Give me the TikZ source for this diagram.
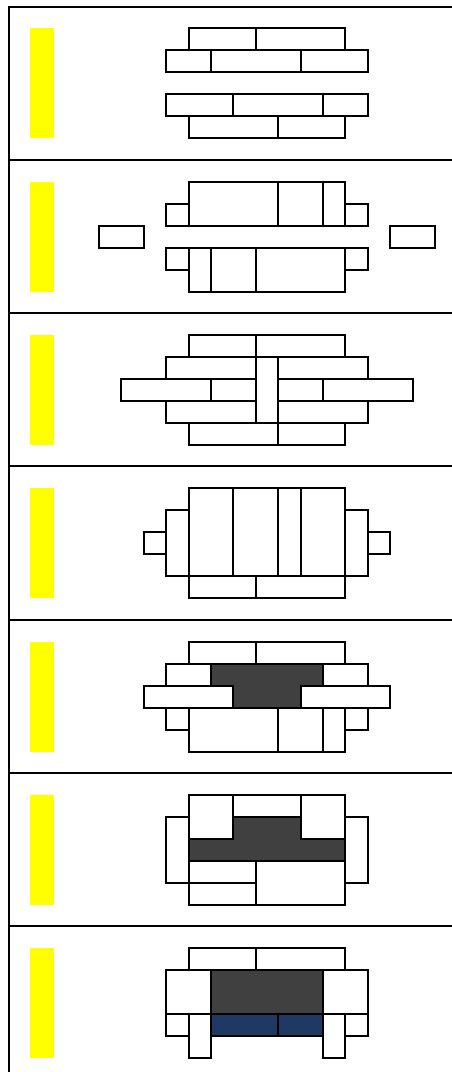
\documentclass[tikz,border=0pt]{standalone}
\usepackage{xcolor}
\definecolor{barfill}{HTML}{FFFF00}
\definecolor{corefill}{HTML}{404040}
\definecolor{basefill}{HTML}{203864}

\begin{document}
\begin{tikzpicture}[
      brick/.style={draw=black, line width=2pt, fill=white},
      core/.style={brick, fill=corefill},
      base/.style={brick, fill=basefill},
      marker/.style={fill=barfill},
      rule/.style={line width=2pt},
      grid/.style={x=22.4pt, y=-22pt}]
    \useasboundingbox (0,0) rectangle (451pt,-1072pt);
    % panel rules and yellow markers
    \foreach \p in {0,...,6} {
      \draw[rule] (8.3pt,{-6.5pt-153.3pt*\p}) -- (460pt,{-6.5pt-153.3pt*\p});
      \fill[marker] (30pt,{-28.3pt-153.3pt*\p}) rectangle (54pt,{-138.3pt-153.3pt*\p});
    }
    \draw[rule] (9.3pt,-5.5pt) -- (9.3pt,-1080pt);
    % panel 1
    \begin{scope}[grid, shift={(99pt,-28.3pt)}]
      \foreach \a/\b/\c/\d in {4/0/7/1, 7/0/11/1, 3/1/5/2, 5/1/9/2, 9/1/12/2,
          3/3/6/4, 6/3/10/4, 10/3/12/4, 4/4/8/5, 8/4/11/5}
        \draw[brick] (\a,\b) rectangle (\c,\d);
    \end{scope}
    % panel 2
    \begin{scope}[grid, shift={(99pt,-181.6pt)}]
      \foreach \a/\b/\c/\d in {4/0/8/2, 8/0/10/2, 10/0/11/2, 3/1/4/2, 11/1/12/2,
          0/2/2/3, 13/2/15/3, 3/3/4/4, 11/3/12/4, 4/3/5/5, 5/3/7/5, 7/3/11/5}
        \draw[brick] (\a,\b) rectangle (\c,\d);
    \end{scope}
    % panel 3
    \begin{scope}[grid, shift={(99pt,-334.9pt)}]
      \foreach \a/\b/\c/\d in {4/0/7/1, 7/0/11/1, 3/1/7/2, 8/1/12/2, 1/2/5/3,
          5/2/7/3, 8/2/10/3, 10/2/14/3, 3/3/7/4, 8/3/12/4, 4/4/8/5, 8/4/11/5, 7/1/8/4}
        \draw[brick] (\a,\b) rectangle (\c,\d);
    \end{scope}
    % panel 4
    \begin{scope}[grid, shift={(99pt,-488.2pt)}]
      \foreach \a/\b/\c/\d in {4/0/6/4, 6/0/8/4, 8/0/9/4, 9/0/11/4, 3/1/4/4,
          11/1/12/4, 2/2/3/3, 12/2/13/3, 4/4/7/5, 7/4/11/5}
        \draw[brick] (\a,\b) rectangle (\c,\d);
    \end{scope}
    % panel 5
    \begin{scope}[grid, shift={(99pt,-641.5pt)}]
      \foreach \a/\b/\c/\d in {4/0/7/1, 7/0/11/1, 3/1/5/2, 10/1/12/2, 2/2/6/3,
          9/2/13/3, 3/3/4/4, 11/3/12/4, 4/3/8/5, 8/3/10/5, 10/3/11/5}
        \draw[brick] (\a,\b) rectangle (\c,\d);
      \draw[core] (5,1) -- (10,1) -- (10,2) -- (9,2) -- (9,3) -- (6,3) -- (6,2) -- (5,2) -- cycle;
    \end{scope}
    % panel 6
    \begin{scope}[grid, shift={(99pt,-794.8pt)}]
      \foreach \a/\b/\c/\d in {4/0/6/2, 6/0/9/1, 9/0/11/2, 3/1/4/4, 11/1/12/4,
          4/3/7/4, 4/4/7/5, 7/3/11/5}
        \draw[brick] (\a,\b) rectangle (\c,\d);
      \draw[core] (6,1) -- (9,1) -- (9,2) -- (11,2) -- (11,3) -- (4,3) -- (4,2) -- (6,2) -- cycle;
    \end{scope}
    % panel 7
    \begin{scope}[grid, shift={(99pt,-948.1pt)}]
      \foreach \a/\b/\c/\d in {4/0/7/1, 7/0/11/1, 3/1/5/3, 10/1/12/3, 3/3/4/4,
          4/3/5/5, 10/3/11/5, 11/3/12/4}
        \draw[brick] (\a,\b) rectangle (\c,\d);
      \draw[core] (5,1) rectangle (10,3);
      \draw[base] (5,3) rectangle (8,4);
      \draw[base] (8,3) rectangle (10,4);
    \end{scope}
  \end{tikzpicture}
\end{document}
